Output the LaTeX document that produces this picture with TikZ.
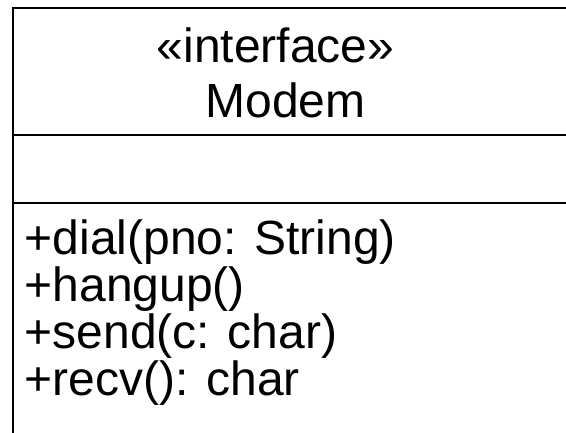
\documentclass[tikz,border=0pt]{standalone}
\usepackage{fontspec}
\setmainfont{Liberation Sans}
\usepackage{tikz}
\usetikzlibrary{positioning}

\tikzset{
    umltext/.style={font=\fontsize{48}{50}\selectfont, inner sep=0pt},
    umlline/.style={line width=2.8pt, line cap=rect}
}

\begin{document}
\begin{tikzpicture}[x=1pt, y=-1pt]
    \useasboundingbox (0,0) rectangle (566,433);
    \clip (0,0) rectangle (566,433);

    % class box, open to the right and bottom
    \coordinate (tl) at (13,8);
    \coordinate (tr) at (600,8);
    \coordinate (bl) at (13,460);
    \coordinate (s1l) at (13,135);
    \coordinate (s1r) at (600,135);
    \coordinate (s2l) at (13,203);
    \coordinate (s2r) at (600,203);
    \draw[umlline] (tr) -- (tl) -- (bl);
    \draw[umlline] (s1l) -- (s1r);
    \draw[umlline] (s2l) -- (s2r);

    % header
    \node[umltext, anchor=base] (stereo) at (275.5,63) {«interface»};
    \node[umltext, anchor=base] (name) at (285.5,118) {Modem};

    % operations
    \node[umltext, anchor=base west] (dial) at (24.5,255) {+dial(pno: String)};
    \node[umltext, anchor=base west] (hangup) at ([yshift=-46.7pt]dial.base west) {+hangup()};
    \node[umltext, anchor=base west] (send) at ([yshift=-46.7pt]hangup.base west) {+send(c: char)};
    \node[umltext, anchor=base west] (recv) at ([yshift=-46.7pt]send.base west) {+recv(): char};
\end{tikzpicture}
\end{document}
